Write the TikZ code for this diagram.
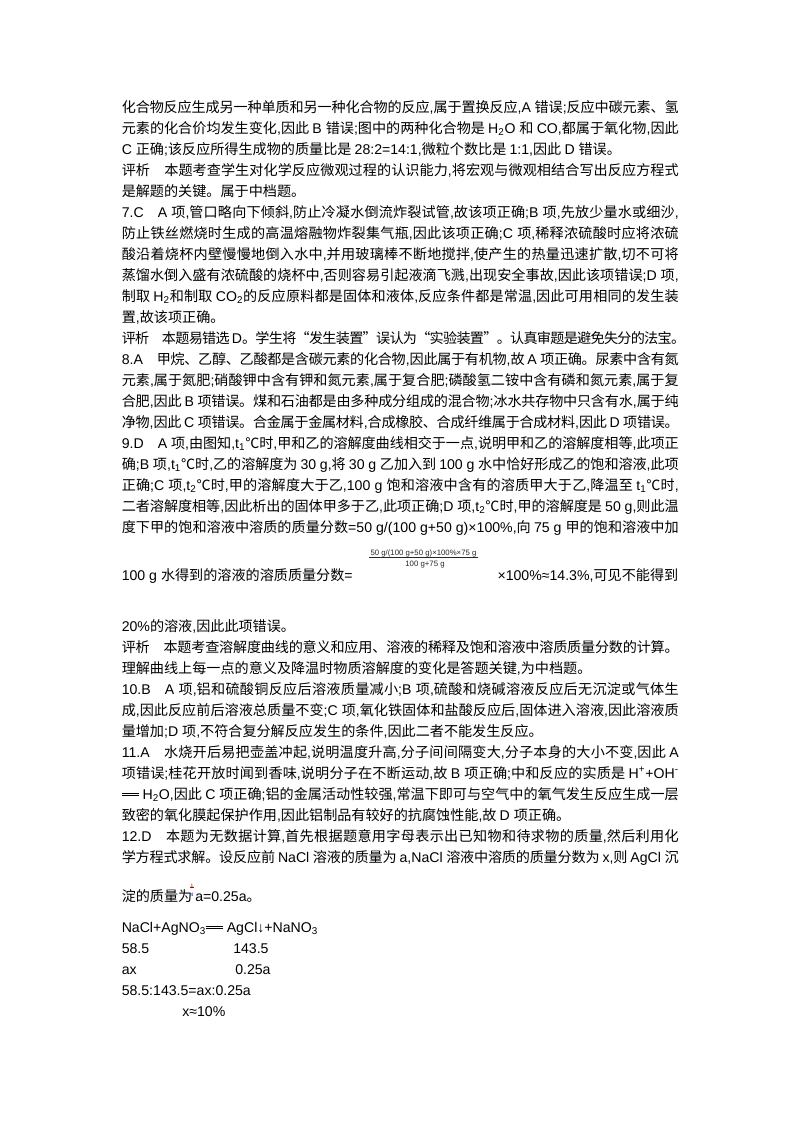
\documentclass[tikz,border=0pt]{standalone}
\usepackage{fontspec}
\setmainfont{Liberation Sans}
\newfontfamily\latf{Liberation Sans}
\newfontfamily\cjkf{Noto Sans CJK SC}
\newcount\cjkcc
\cjkcc="21 \loop\XeTeXcharclass\cjkcc=0 \advance\cjkcc by 1 \ifnum\cjkcc<"3000 \repeat
\cjkcc="3000 \loop\XeTeXcharclass\cjkcc=5 \advance\cjkcc by 1 \ifnum\cjkcc<"3040 \repeat
\cjkcc="4E00 \loop\XeTeXcharclass\cjkcc=5 \advance\cjkcc by 1 \ifnum\cjkcc<"A000 \repeat
\cjkcc="FF00 \loop\XeTeXcharclass\cjkcc=5 \advance\cjkcc by 1 \ifnum\cjkcc<"FFF0 \repeat
\XeTeXcharclass"2103=5
\XeTeXcharclass"201C=5
\XeTeXcharclass"201D=5
\XeTeXinterchartoks 0 5 = {\cjkf}
\XeTeXinterchartoks 5 0 = {\latf}
\XeTeXinterchartoks 4095 5 = {\cjkf}
\XeTeXinterchartoks 4095 0 = {\latf}
\XeTeXinterchartoks 5 5 = {\hskip 0pt plus 0.1em minus 0.05em}
\newlength\linew
\setlength\linew{414.4pt}
\newcommand\fulline[1]{\hbox to \linew{#1}}
\newcommand\chemeq{\makebox[1.2em][l]{\rule[0.2em]{1.2em}{0.55pt}\hspace{-1.2em}\rule[0.36em]{1.2em}{0.55pt}}}
\begin{document}
\XeTeXinterchartokenstate=1
\begin{tikzpicture}[x=0.744pt,y=-0.744pt,
  txt/.style={anchor=base west,inner sep=0pt,font=\fontsize{10.5pt}{15.6pt}\selectfont},
  fracnum/.style={anchor=base,inner sep=0.6pt,font=\fontsize{5.8pt}{7pt}\selectfont,text=black!85},
  qfrac/.style={anchor=base,inner sep=0.3pt,font=\fontsize{3.6pt}{4pt}\selectfont}]
\fill[white] (0,0) rectangle (800,1132);
\useasboundingbox (0,0) rectangle (800,1132);
\node[txt] (l1) at (121.5,112.6) {\fulline{化合物反应生成另一种单质和另一种化合物的反应,属于置换反应,A 错误;反应中碳元素、氢}};
\node[txt] (l2) at (121.5,133.6) {\fulline{元素的化合价均发生变化,因此 B 错误;图中的两种化合物是 H\textsubscript{2}O 和 CO,都属于氧化物,因此}};
\node[txt] (l3) at (121.5,154.5) {C 正确;该反应所得生成物的质量比是 28:2=14:1,微粒个数比是 1:1,因此 D 错误。};
\node[txt] (l4) at (121.5,175.5) {\fulline{评析　本题考查学生对化学反应微观过程的认识能力,将宏观与微观相结合写出反应方程式}};
\node[txt] (l5) at (121.5,196.5) {是解题的关键。属于中档题。};
\node[txt] (l6) at (121.5,217.5) {\fulline{7.C　A 项,管口略向下倾斜,防止冷凝水倒流炸裂试管,故该项正确;B 项,先放少量水或细沙,}};
\node[txt] (l7) at (121.5,238.4) {\fulline{防止铁丝燃烧时生成的高温熔融物炸裂集气瓶,因此该项正确;C 项,稀释浓硫酸时应将浓硫}};
\node[txt] (l8) at (121.5,259.4) {\fulline{酸沿着烧杯内壁慢慢地倒入水中,并用玻璃棒不断地搅拌,使产生的热量迅速扩散,切不可将}};
\node[txt] (l9) at (121.5,280.4) {\fulline{蒸馏水倒入盛有浓硫酸的烧杯中,否则容易引起液滴飞溅,出现安全事故,因此该项错误;D 项,}};
\node[txt] (l10) at (121.5,301.3) {\fulline{制取 H\textsubscript{2}和制取 CO\textsubscript{2}的反应原料都是固体和液体,反应条件都是常温,因此可用相同的发生装}};
\node[txt] (l11) at (121.5,322.3) {置,故该项正确。};
\node[txt] (l12) at (121.5,343.3) {\fulline{评析　本题易错选 D。学生将“发生装置”误认为“实验装置”。认真审题是避免失分的法宝。}};
\node[txt] (l13) at (121.5,364.2) {\fulline{8.A　甲烷、乙醇、乙酸都是含碳元素的化合物,因此属于有机物,故 A 项正确。尿素中含有氮}};
\node[txt] (l14) at (121.5,385.2) {\fulline{元素,属于氮肥;硝酸钾中含有钾和氮元素,属于复合肥;磷酸氢二铵中含有磷和氮元素,属于复}};
\node[txt] (l15) at (121.5,406.2) {\fulline{合肥,因此 B 项错误。煤和石油都是由多种成分组成的混合物;冰水共存物中只含有水,属于纯}};
\node[txt] (l16) at (121.5,427.1) {\fulline{净物,因此 C 项错误。合金属于金属材料,合成橡胶、合成纤维属于合成材料,因此 D 项错误。}};
\node[txt] (l17) at (121.5,448.1) {\fulline{9.D　A 项,由图知,t\textsubscript{1}℃时,甲和乙的溶解度曲线相交于一点,说明甲和乙的溶解度相等,此项正}};
\node[txt] (l18) at (121.5,469.1) {\fulline{确;B 项,t\textsubscript{1}℃时,乙的溶解度为 30 g,将 30 g 乙加入到 100 g 水中恰好形成乙的饱和溶液,此项}};
\node[txt] (l19) at (121.5,490.0) {\fulline{正确;C 项,t\textsubscript{2}℃时,甲的溶解度大于乙,100 g 饱和溶液中含有的溶质甲大于乙,降温至 t\textsubscript{1}℃时,}};
\node[txt] (l20) at (121.5,511.0) {\fulline{二者溶解度相等,因此析出的固体甲多于乙,此项正确;D 项,t\textsubscript{2}℃时,甲的溶解度是 50 g,则此温}};
\node[txt] (l21) at (121.5,532.0) {\fulline{度下甲的饱和溶液中溶质的质量分数=50 g/(100 g+50 g)×100\%,向 75 g 甲的饱和溶液中加}};
\node[fracnum] (fnum) at (423.5,555) {50 g/(100 g+50 g)×100\%×75 g};
\draw[black!85,line width=0.4pt] (fnum.south west) -- (fnum.south east);
\node[fracnum] (fden) at (425,566) {100 g+75 g};
\node[txt] (l22a) at (121.5,580) {100 g 水得到的溶液的溶质质量分数=};
\node[txt,anchor=base east] (l22b) at (678.5,580) {×100\%≈14.3\%,可见不能得到};
\node[txt] (l23) at (121.5,631) {20\%的溶液,因此此项错误。};
\node[txt] (l24) at (121.5,652) {\fulline{评析　本题考查溶解度曲线的意义和应用、溶液的稀释及饱和溶液中溶质质量分数的计算。}};
\node[txt] (l25) at (121.5,673) {理解曲线上每一点的意义及降温时物质溶解度的变化是答题关键,为中档题。};
\node[txt] (l26) at (121.5,694) {\fulline{10.B　A 项,铝和硫酸铜反应后溶液质量减小;B 项,硫酸和烧碱溶液反应后无沉淀或气体生}};
\node[txt] (l27) at (121.5,715) {\fulline{成,因此反应前后溶液总质量不变;C 项,氧化铁固体和盐酸反应后,固体进入溶液,因此溶液质}};
\node[txt] (l28) at (121.5,736) {量增加;D 项,不符合复分解反应发生的条件,因此二者不能发生反应。};
\node[txt] (l29) at (121.5,757) {\fulline{11.A　水烧开后易把壶盖冲起,说明温度升高,分子间间隔变大,分子本身的大小不变,因此 A}};
\node[txt] (l30) at (121.5,778) {\fulline{项错误;桂花开放时闻到香味,说明分子在不断运动,故 B 项正确;中和反应的实质是 H\textsuperscript{+}+OH\textsuperscript{-}}};
\node[txt] (l31) at (121.5,799) {\fulline{\chemeq{} H\textsubscript{2}O,因此 C 项正确;铝的金属活动性较强,常温下即可与空气中的氧气发生反应生成一层}};
\node[txt] (l32) at (121.5,820) {致密的氧化膜起保护作用,因此铝制品有较好的抗腐蚀性能,故 D 项正确。};
\node[txt] (l33) at (121.5,841) {\fulline{12.D　本题为无数据计算,首先根据题意用字母表示出已知物和待求物的质量,然后利用化}};
\node[txt] (l34) at (121.5,862) {\fulline{学方程式求解。设反应前 NaCl 溶液的质量为 a,NaCl 溶液中溶质的质量分数为 x,则 AgCl 沉}};
\node[txt] (l35a) at (121.5,901) {淀的质量为};
\node[qfrac,text=red!70!black] (q1) at (192,887) {1};
\draw[red!70!black,line width=0.3pt] (q1.south west) -- (q1.south east);
\node[qfrac,text=blue!55!black] (q4) at (192,896) {4};
\node[txt] (l35b) at (195,901) {a=0.25a。};
\node[txt] (l36) at (121.5,932) {NaCl+AgNO\textsubscript{3}\chemeq{} AgCl↓+NaNO\textsubscript{3}};
\node[txt] (l37a) at (121.5,953) {58.5};
\node[txt] (l37b) at (233,953) {143.5};
\node[txt] (l38a) at (121.5,974) {ax};
\node[txt] (l38b) at (235,974) {0.25a};
\node[txt] (l39) at (121.5,995) {58.5:143.5=ax:0.25a};
\node[txt] (l40) at (182,1016) {x≈10\%};
\end{tikzpicture}
\end{document}
